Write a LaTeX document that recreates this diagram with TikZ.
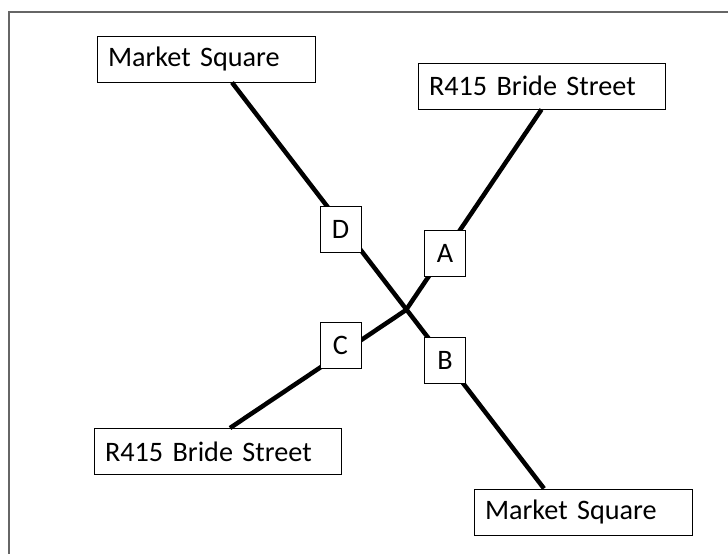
\documentclass[tikz,border=0pt]{standalone}
\usepackage{fontspec}
\setmainfont{Carlito}
\begin{document}
\begin{tikzpicture}
    [x=1pt,y=-1pt,
     place/.style={draw,fill=white,line width=1pt,inner xsep=11pt,inner ysep=0pt,
       minimum height=46pt,align=left,font=\fontsize{28.2}{32}\selectfont},
     letter/.style={draw,fill=white,line width=1pt,inner sep=0pt,
       minimum width=41pt,minimum height=46pt,font=\fontsize{28.2}{32}\selectfont},
     road/.style={line width=4.5pt}]

    \useasboundingbox (0,0) rectangle (728,554);

    % frame:
    \draw [line width=1.5pt,black!60] (9,554) -- (9,12) -- (728,12);

    % street names:
    \node (mtl) at (206,59) [place,text width=196pt] {Market Square};
    \node (rtr) at (541.5,86) [place,text width=225pt] {R415 Bride Street};
    \node (rbl) at (217.5,451.5) [place,text width=225pt] {R415 Bride Street};
    \node (mbr) at (583,512) [place,text width=196pt] {Market Square};

    % junction:
    \coordinate (x) at (406,310);

    % roads:
    \draw [road] ([xshift=26pt]mtl.south) to ([xshift=-39pt]mbr.north);
    \draw [road] (rtr.south) -- (x) -- ([xshift=12.5pt]rbl.north);

    % approaches:
    \node (d) at (340.5,229.5) [letter] {D};
    \node (a) at (445,253) [letter] {A};
    \node (c) at (340.5,345) [letter] {C};
    \node (b) at (445,360.5) [letter] {B};

  \end{tikzpicture}
\end{document}
